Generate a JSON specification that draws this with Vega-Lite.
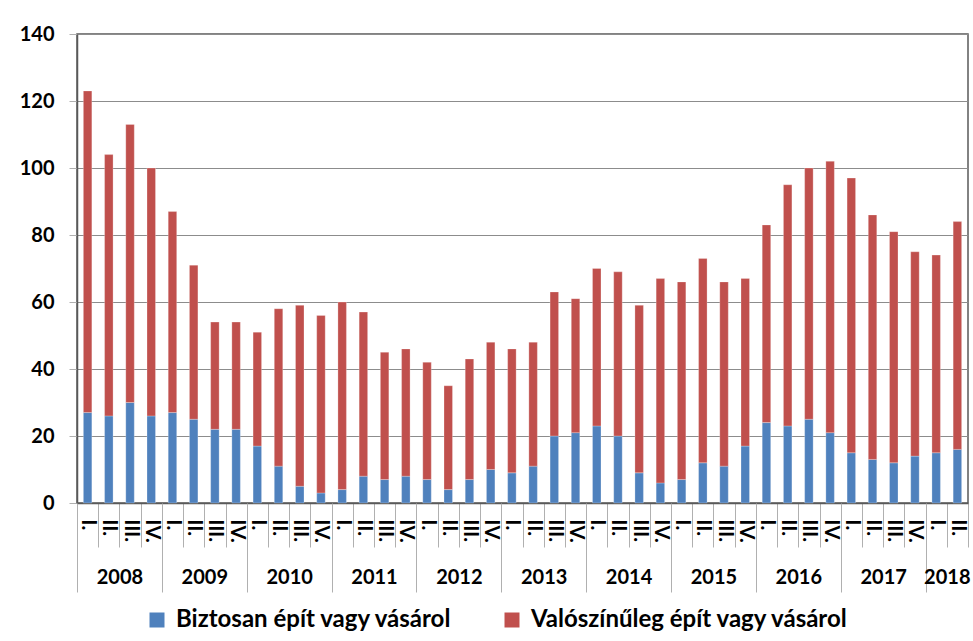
{
  "$schema": "https://vega.github.io/schema/vega-lite/v6.json",
  "width": 891,
  "height": 469,
  "autosize": {"type": "none"},
  "padding": {"left": 77, "top": 34, "right": 5, "bottom": 138},
  "background": "white",
  "config": {
    "font": "Lato",
    "view": {"stroke": "#595959", "strokeWidth": 1.5},
    "axis": {"labelFont": "Lato", "labelFontWeight": "bold", "labelColor": "#000"}
  },
  "data": {
    "values": [
      {"k": "2008-I", "s": "Biztosan épít vagy vásárol", "v": 27}, {"k": "2008-I", "s": "Valószínűleg épít vagy vásárol", "v": 96},
      {"k": "2008-II", "s": "Biztosan épít vagy vásárol", "v": 26}, {"k": "2008-II", "s": "Valószínűleg épít vagy vásárol", "v": 78},
      {"k": "2008-III", "s": "Biztosan épít vagy vásárol", "v": 30}, {"k": "2008-III", "s": "Valószínűleg épít vagy vásárol", "v": 83},
      {"k": "2008-IV", "s": "Biztosan épít vagy vásárol", "v": 26}, {"k": "2008-IV", "s": "Valószínűleg épít vagy vásárol", "v": 74},
      {"k": "2009-I", "s": "Biztosan épít vagy vásárol", "v": 27}, {"k": "2009-I", "s": "Valószínűleg épít vagy vásárol", "v": 60},
      {"k": "2009-II", "s": "Biztosan épít vagy vásárol", "v": 25}, {"k": "2009-II", "s": "Valószínűleg épít vagy vásárol", "v": 46},
      {"k": "2009-III", "s": "Biztosan épít vagy vásárol", "v": 22}, {"k": "2009-III", "s": "Valószínűleg épít vagy vásárol", "v": 32},
      {"k": "2009-IV", "s": "Biztosan épít vagy vásárol", "v": 22}, {"k": "2009-IV", "s": "Valószínűleg épít vagy vásárol", "v": 32},
      {"k": "2010-I", "s": "Biztosan épít vagy vásárol", "v": 17}, {"k": "2010-I", "s": "Valószínűleg épít vagy vásárol", "v": 34},
      {"k": "2010-II", "s": "Biztosan épít vagy vásárol", "v": 11}, {"k": "2010-II", "s": "Valószínűleg épít vagy vásárol", "v": 47},
      {"k": "2010-III", "s": "Biztosan épít vagy vásárol", "v": 5}, {"k": "2010-III", "s": "Valószínűleg épít vagy vásárol", "v": 54},
      {"k": "2010-IV", "s": "Biztosan épít vagy vásárol", "v": 3}, {"k": "2010-IV", "s": "Valószínűleg épít vagy vásárol", "v": 53},
      {"k": "2011-I", "s": "Biztosan épít vagy vásárol", "v": 4}, {"k": "2011-I", "s": "Valószínűleg épít vagy vásárol", "v": 56},
      {"k": "2011-II", "s": "Biztosan épít vagy vásárol", "v": 8}, {"k": "2011-II", "s": "Valószínűleg épít vagy vásárol", "v": 49},
      {"k": "2011-III", "s": "Biztosan épít vagy vásárol", "v": 7}, {"k": "2011-III", "s": "Valószínűleg épít vagy vásárol", "v": 38},
      {"k": "2011-IV", "s": "Biztosan épít vagy vásárol", "v": 8}, {"k": "2011-IV", "s": "Valószínűleg épít vagy vásárol", "v": 38},
      {"k": "2012-I", "s": "Biztosan épít vagy vásárol", "v": 7}, {"k": "2012-I", "s": "Valószínűleg épít vagy vásárol", "v": 35},
      {"k": "2012-II", "s": "Biztosan épít vagy vásárol", "v": 4}, {"k": "2012-II", "s": "Valószínűleg épít vagy vásárol", "v": 31},
      {"k": "2012-III", "s": "Biztosan épít vagy vásárol", "v": 7}, {"k": "2012-III", "s": "Valószínűleg épít vagy vásárol", "v": 36},
      {"k": "2012-IV", "s": "Biztosan épít vagy vásárol", "v": 10}, {"k": "2012-IV", "s": "Valószínűleg épít vagy vásárol", "v": 38},
      {"k": "2013-I", "s": "Biztosan épít vagy vásárol", "v": 9}, {"k": "2013-I", "s": "Valószínűleg épít vagy vásárol", "v": 37},
      {"k": "2013-II", "s": "Biztosan épít vagy vásárol", "v": 11}, {"k": "2013-II", "s": "Valószínűleg épít vagy vásárol", "v": 37},
      {"k": "2013-III", "s": "Biztosan épít vagy vásárol", "v": 20}, {"k": "2013-III", "s": "Valószínűleg épít vagy vásárol", "v": 43},
      {"k": "2013-IV", "s": "Biztosan épít vagy vásárol", "v": 21}, {"k": "2013-IV", "s": "Valószínűleg épít vagy vásárol", "v": 40},
      {"k": "2014-I", "s": "Biztosan épít vagy vásárol", "v": 23}, {"k": "2014-I", "s": "Valószínűleg épít vagy vásárol", "v": 47},
      {"k": "2014-II", "s": "Biztosan épít vagy vásárol", "v": 20}, {"k": "2014-II", "s": "Valószínűleg épít vagy vásárol", "v": 49},
      {"k": "2014-III", "s": "Biztosan épít vagy vásárol", "v": 9}, {"k": "2014-III", "s": "Valószínűleg épít vagy vásárol", "v": 50},
      {"k": "2014-IV", "s": "Biztosan épít vagy vásárol", "v": 6}, {"k": "2014-IV", "s": "Valószínűleg épít vagy vásárol", "v": 61},
      {"k": "2015-I", "s": "Biztosan épít vagy vásárol", "v": 7}, {"k": "2015-I", "s": "Valószínűleg épít vagy vásárol", "v": 59},
      {"k": "2015-II", "s": "Biztosan épít vagy vásárol", "v": 12}, {"k": "2015-II", "s": "Valószínűleg épít vagy vásárol", "v": 61},
      {"k": "2015-III", "s": "Biztosan épít vagy vásárol", "v": 11}, {"k": "2015-III", "s": "Valószínűleg épít vagy vásárol", "v": 55},
      {"k": "2015-IV", "s": "Biztosan épít vagy vásárol", "v": 17}, {"k": "2015-IV", "s": "Valószínűleg épít vagy vásárol", "v": 50},
      {"k": "2016-I", "s": "Biztosan épít vagy vásárol", "v": 24}, {"k": "2016-I", "s": "Valószínűleg épít vagy vásárol", "v": 59},
      {"k": "2016-II", "s": "Biztosan épít vagy vásárol", "v": 23}, {"k": "2016-II", "s": "Valószínűleg épít vagy vásárol", "v": 72},
      {"k": "2016-III", "s": "Biztosan épít vagy vásárol", "v": 25}, {"k": "2016-III", "s": "Valószínűleg épít vagy vásárol", "v": 75},
      {"k": "2016-IV", "s": "Biztosan épít vagy vásárol", "v": 21}, {"k": "2016-IV", "s": "Valószínűleg épít vagy vásárol", "v": 81},
      {"k": "2017-I", "s": "Biztosan épít vagy vásárol", "v": 15}, {"k": "2017-I", "s": "Valószínűleg épít vagy vásárol", "v": 82},
      {"k": "2017-II", "s": "Biztosan épít vagy vásárol", "v": 13}, {"k": "2017-II", "s": "Valószínűleg épít vagy vásárol", "v": 73},
      {"k": "2017-III", "s": "Biztosan épít vagy vásárol", "v": 12}, {"k": "2017-III", "s": "Valószínűleg épít vagy vásárol", "v": 69},
      {"k": "2017-IV", "s": "Biztosan épít vagy vásárol", "v": 14}, {"k": "2017-IV", "s": "Valószínűleg épít vagy vásárol", "v": 61},
      {"k": "2018-I", "s": "Biztosan épít vagy vásárol", "v": 15}, {"k": "2018-I", "s": "Valószínűleg épít vagy vásárol", "v": 59},
      {"k": "2018-II", "s": "Biztosan épít vagy vásárol", "v": 16}, {"k": "2018-II", "s": "Valószínűleg épít vagy vásárol", "v": 68}
    ]
  },
  "resolve": {"axis": {"x": "independent"}},
  "layer": [
    {
      "mark": {"type": "bar", "width": {"band": 0.4}, "stroke": "#ffffff", "strokeOpacity": 0.5, "strokeWidth": 0.5},
      "encoding": {
        "x": {
          "field": "k", "type": "ordinal", "sort": null,
          "scale": {"paddingInner": 0, "paddingOuter": 0},
          "axis": {
            "orient": "bottom", "title": null, "tickBand": "extent", "tickSize": 44, "tickColor": "#b0b0b0", "tickWidth": 1,
            "domainColor": "#595959", "domainWidth": 1.5,
            "labelAngle": 90, "labelAlign": "left", "labelBaseline": "middle",
            "labelFontSize": 20, "labelPadding": -28,
            "labelExpr": "isString(datum.value) ? split(datum.value, '-')[1] + '.' : ''", "grid": false
          }
        },
        "y": {
          "field": "v", "type": "quantitative", "stack": "zero",
          "scale": {"domain": [0, 140], "nice": false},
          "axis": {
            "title": null, "values": [0, 20, 40, 60, 80, 100, 120, 140],
            "gridColor": "#8c8c8c", "gridWidth": 1, "domainColor": "#595959", "domainWidth": 1.5,
            "tickColor": "#b0b0b0", "tickSize": 8, "labelPadding": 15, "labelFontSize": 20
          }
        },
        "color": {
          "field": "s", "type": "nominal",
          "scale": {"domain": ["Biztosan épít vagy vásárol", "Valószínűleg épít vagy vásárol"], "range": ["#4F81BD", "#C0504D"]},
          "legend": {
            "title": null, "orient": "none", "direction": "horizontal", "legendX": 68, "legendY": 574,
            "symbolType": "square", "symbolSize": 225, "symbolStrokeWidth": 0,
            "labelFontSize": 24, "labelFontWeight": "bold", "labelColor": "#000", "labelFont": "Lato",
            "labelOffset": 7, "columnPadding": 47, "labelLimit": 500
          }
        },
        "order": {"field": "s", "sort": "ascending"}
      }
    },
    {
      "mark": {"type": "point", "opacity": 0},
      "encoding": {
        "x": {
          "field": "k", "type": "ordinal", "sort": null,
          "axis": {
            "orient": "bottom", "title": null, "domain": false, "tickBand": "extent", "tickSize": 89, "tickWidth": 1,
            "tickColor": {"condition": {"test": "!isString(datum.value) || slice(datum.value, -3) == '-IV'", "value": "#b0b0b0"}, "value": "transparent"},
            "labelAngle": 0, "labelAlign": "center", "labelBaseline": "top",
            "labelFontSize": 20, "labelPadding": -25, "labelOffset": 10.6,
            "labelExpr": "isString(datum.value) && ((slice(datum.value, -3) == '-II' && datum.value != '2018-II') || datum.value == '2018-I') ? slice(datum.value, 0, 4) : ''",
            "grid": false
          }
        }
      }
    }
  ]
}
